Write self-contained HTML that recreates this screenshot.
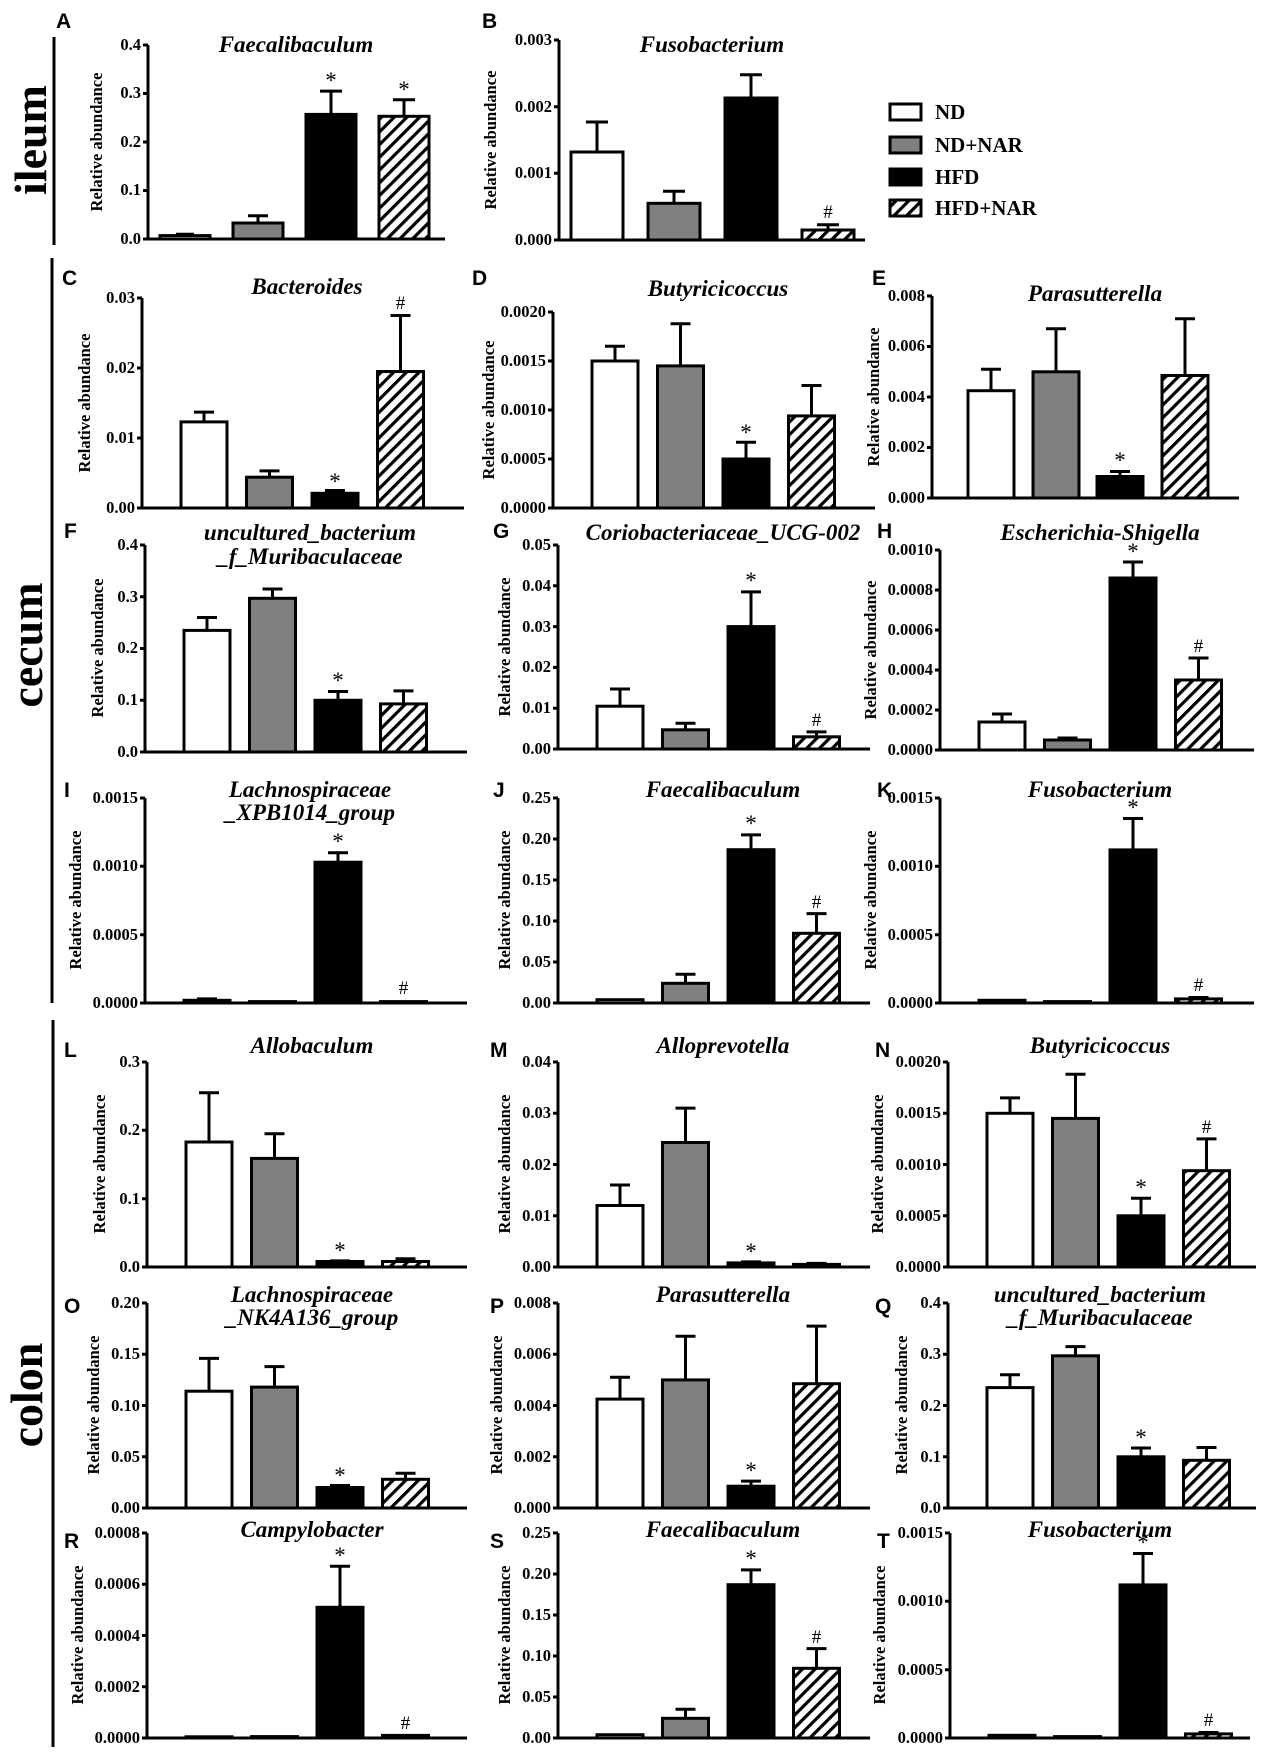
<!DOCTYPE html>
<html><head><meta charset="utf-8"><style>
html,body{margin:0;padding:0;background:#fff;}
svg{display:block;}
text{font-family:"Liberation Serif",serif;font-weight:bold;}
.t{font-size:16.5px;text-anchor:end;}
.yl{font-size:16.5px;text-anchor:middle;}
.ti{font-size:23px;font-style:italic;text-anchor:middle;}
.pl{font-family:"Liberation Sans",sans-serif;font-size:21px;}
.mk{font-size:23px;text-anchor:middle;font-weight:normal;}
.hs{font-size:19px;text-anchor:middle;font-weight:normal;}
.sec{font-size:46px;text-anchor:middle;}
.ax{fill:none;stroke:#000;stroke-width:3;}
.b0{fill:#fff;stroke:#000;stroke-width:3;}
.b1{fill:#808080;stroke:#000;stroke-width:3;}
.b2{fill:#000;stroke:#000;stroke-width:3;}
.b3{fill:url(#h);stroke:#000;stroke-width:3;}
.e{fill:none;stroke:#000;stroke-width:3;}
</style></head><body>
<svg width="1267" height="1757" viewBox="0 0 1267 1757" xmlns="http://www.w3.org/2000/svg">
<defs><pattern id="h" patternUnits="userSpaceOnUse" width="9" height="9" patternTransform="rotate(45)"><rect width="9" height="9" fill="#fff"/><rect x="0" y="0" width="3.2" height="9" fill="#000"/></pattern></defs>

<!-- section labels -->
<path class="ax" d="M54 37V245M52 258V1003M53 1020V1747"/>
<text class="sec" transform="translate(46,140) rotate(-90)">ileum</text>
<text class="sec" transform="translate(42,645) rotate(-90)">cecum</text>
<text class="sec" transform="translate(42,1395) rotate(-90)">colon</text>

<!-- legend -->
<rect class="b0" x="890" y="104" width="31" height="16"/><text x="935" y="119" font-size="21">ND</text>
<rect class="b1" x="890" y="137" width="31" height="16"/><text x="935" y="152" font-size="21">ND+NAR</text>
<rect class="b2" x="890" y="169" width="31" height="16"/><text x="935" y="184" font-size="21">HFD</text>
<rect class="b3" x="890" y="200" width="31" height="16"/><text x="935" y="215" font-size="21">HFD+NAR</text>

<!-- A -->
<text class="pl" x="56" y="28">A</text>
<text class="ti" x="296" y="52">Faecalibaculum</text>
<path class="ax" d="M148 45V239H445M143 45H148M143 93.5H148M143 142H148M143 190.5H148M143 239H148"/>
<text class="t" x="141" y="50">0.4</text><text class="t" x="141" y="98">0.3</text><text class="t" x="141" y="147">0.2</text><text class="t" x="141" y="195">0.1</text><text class="t" x="141" y="244">0.0</text>
<text class="yl" transform="translate(102,142) rotate(-90)">Relative abundance</text>
<rect class="b0" x="160" y="235.6" width="50" height="3.4"/><path class="e" d="M185 235.6V234.2M176 234.2H194"/>
<rect class="b1" x="233" y="223" width="50" height="16"/><path class="e" d="M258 223V215.7M248 215.7H268"/>
<rect class="b2" x="306" y="114.4" width="50" height="124.6"/><path class="e" d="M331 114.4V91.1M320 91.1H342"/><text class="mk" x="331" y="88">*</text>
<rect class="b3" x="379" y="116.3" width="50" height="122.7"/><path class="e" d="M404 116.3V99.8M393 99.8H415"/><text class="mk" x="404" y="97">*</text>

<!-- B -->
<text class="pl" x="482" y="28">B</text>
<text class="ti" x="712" y="52">Fusobacterium</text>
<path class="ax" d="M559 40V240H865M554 40H559M554 106.7H559M554 173.3H559M554 240H559"/>
<text class="t" x="552" y="45">0.003</text><text class="t" x="552" y="112">0.002</text><text class="t" x="552" y="178">0.001</text><text class="t" x="552" y="245">0.000</text>
<text class="yl" transform="translate(496,140) rotate(-90)">Relative abundance</text>
<rect class="b0" x="571" y="152" width="52" height="88"/><path class="e" d="M597 152V122M586 122H608"/>
<rect class="b1" x="648" y="203.3" width="52" height="36.7"/><path class="e" d="M674 203.3V191.3M663 191.3H685"/>
<rect class="b2" x="725" y="98" width="52" height="142"/><path class="e" d="M751 98V74.7M740 74.7H762"/>
<rect class="b3" x="802" y="230" width="52" height="10"/><path class="e" d="M828 230V224.7M817 224.7H839"/><text class="hs" x="828" y="218">#</text>

<!-- C -->
<text class="pl" x="62" y="285">C</text>
<text class="ti" x="307" y="294">Bacteroides</text>
<path class="ax" d="M142 298V508H464M137 298H142M137 368H142M137 438H142M137 508H142"/>
<text class="t" x="135" y="303">0.03</text><text class="t" x="135" y="373">0.02</text><text class="t" x="135" y="443">0.01</text><text class="t" x="135" y="513">0.00</text>
<text class="yl" transform="translate(90,403) rotate(-90)">Relative abundance</text>
<rect class="b0" x="181" y="421.9" width="46" height="86.1"/><path class="e" d="M204 421.9V412.1M194 412.1H214"/>
<rect class="b1" x="246.5" y="477.2" width="46" height="30.8"/><path class="e" d="M269.5 477.2V470.9M259.5 470.9H279.5"/>
<rect class="b2" x="312" y="493.3" width="46" height="14.7"/><path class="e" d="M335 493.3V490.5M325 490.5H345"/><text class="mk" x="335" y="489">*</text>
<rect class="b3" x="377.5" y="371.5" width="46" height="136.5"/><path class="e" d="M400.5 371.5V315.5M390.5 315.5H410.5"/><text class="hs" x="400.5" y="309">#</text>

<!-- D -->
<text class="pl" x="472" y="285">D</text>
<text class="ti" x="718" y="296">Butyricicoccus</text>
<path class="ax" d="M553 312V508H875M548 312H553M548 361H553M548 410H553M548 459H553M548 508H553"/>
<text class="t" x="546" y="317">0.0020</text><text class="t" x="546" y="366">0.0015</text><text class="t" x="546" y="415">0.0010</text><text class="t" x="546" y="464">0.0005</text><text class="t" x="546" y="513">0.0000</text>
<text class="yl" transform="translate(494,410) rotate(-90)">Relative abundance</text>
<rect class="b0" x="592" y="361" width="46" height="147"/><path class="e" d="M615 361V346.3M605 346.3H625"/>
<rect class="b1" x="657.5" y="365.9" width="46" height="142.1"/><path class="e" d="M680.5 365.9V323.8M670.5 323.8H690.5"/>
<rect class="b2" x="723" y="459" width="46" height="49"/><path class="e" d="M746 459V442.3M736 442.3H756"/><text class="mk" x="746" y="440">*</text>
<rect class="b3" x="788.5" y="415.9" width="46" height="92.1"/><path class="e" d="M811.5 415.9V385.5M801.5 385.5H821.5"/>

<!-- E -->
<text class="pl" x="872" y="285">E</text>
<text class="ti" x="1095" y="301">Parasutterella</text>
<path class="ax" d="M932 296V498H1239M927 296H932M927 346.5H932M927 397H932M927 447.5H932M927 498H932"/>
<text class="t" x="925" y="301">0.008</text><text class="t" x="925" y="351">0.006</text><text class="t" x="925" y="402">0.004</text><text class="t" x="925" y="452">0.002</text><text class="t" x="925" y="503">0.000</text>
<text class="yl" transform="translate(879,397) rotate(-90)">Relative abundance</text>
<rect class="b0" x="968" y="390.7" width="46" height="107.3"/><path class="e" d="M991 390.7V369.2M981 369.2H1001"/>
<rect class="b1" x="1033" y="371.8" width="46" height="126.2"/><path class="e" d="M1056 371.8V328.8M1046 328.8H1066"/>
<rect class="b2" x="1097" y="476.5" width="46" height="21.5"/><path class="e" d="M1120 476.5V471.5M1110 471.5H1130"/><text class="mk" x="1120" y="468">*</text>
<rect class="b3" x="1162" y="375.5" width="46" height="122.5"/><path class="e" d="M1185 375.5V318.7M1175 318.7H1195"/>

<!-- F -->
<text class="pl" x="64" y="538">F</text>
<text class="ti" x="310" y="540">uncultured_bacterium</text><text class="ti" x="310" y="564">_f_Muribaculaceae</text>
<path class="ax" d="M145 545V752H467M140 545H145M140 596.75H145M140 648.5H145M140 700.25H145M140 752H145"/>
<text class="t" x="138" y="550">0.4</text><text class="t" x="138" y="602">0.3</text><text class="t" x="138" y="653">0.2</text><text class="t" x="138" y="705">0.1</text><text class="t" x="138" y="757">0.0</text>
<text class="yl" transform="translate(103,648) rotate(-90)">Relative abundance</text>
<rect class="b0" x="184" y="630.4" width="46" height="121.6"/><path class="e" d="M207 630.4V617.5M197 617.5H217"/>
<rect class="b1" x="249.5" y="598.3" width="46" height="153.7"/><path class="e" d="M272.5 598.3V589M262.5 589H282.5"/>
<rect class="b2" x="315" y="700.3" width="46" height="51.7"/><path class="e" d="M338 700.3V691.5M328 691.5H348"/><text class="mk" x="338" y="688">*</text>
<rect class="b3" x="380.5" y="703.9" width="46" height="48.1"/><path class="e" d="M403.5 703.9V690.9M393.5 690.9H413.5"/>

<!-- G -->
<text class="pl" x="493" y="538">G</text>
<text class="ti" x="723" y="540">Coriobacteriaceae_UCG-002</text>
<path class="ax" d="M558 545V749H870M553 545H558M553 585.8H558M553 626.6H558M553 667.4H558M553 708.2H558M553 749H558"/>
<text class="t" x="551" y="550">0.05</text><text class="t" x="551" y="591">0.04</text><text class="t" x="551" y="632">0.03</text><text class="t" x="551" y="672">0.02</text><text class="t" x="551" y="713">0.01</text><text class="t" x="551" y="754">0.00</text>
<text class="yl" transform="translate(510,647) rotate(-90)">Relative abundance</text>
<rect class="b0" x="597" y="706.2" width="46" height="42.8"/><path class="e" d="M620 706.2V689M610 689H630"/>
<rect class="b1" x="662.5" y="729.8" width="46" height="19.2"/><path class="e" d="M685.5 729.8V723.3M675.5 723.3H695.5"/>
<rect class="b2" x="728" y="626.6" width="46" height="122.4"/><path class="e" d="M751 626.6V591.9M741 591.9H761"/><text class="mk" x="751" y="588">*</text>
<rect class="b3" x="793.5" y="736.8" width="46" height="12.2"/><path class="e" d="M816.5 736.8V731.9M806.5 731.9H826.5"/><text class="hs" x="816.5" y="726">#</text>

<!-- H -->
<text class="pl" x="877" y="538">H</text>
<text class="ti" x="1100" y="540">Escherichia-Shigella</text>
<path class="ax" d="M940 550V750H1254M935 550H940M935 590H940M935 630H940M935 670H940M935 710H940M935 750H940"/>
<text class="t" x="933" y="555">0.0010</text><text class="t" x="933" y="595">0.0008</text><text class="t" x="933" y="635">0.0006</text><text class="t" x="933" y="675">0.0004</text><text class="t" x="933" y="715">0.0002</text><text class="t" x="933" y="755">0.0000</text>
<text class="yl" transform="translate(876,650) rotate(-90)">Relative abundance</text>
<rect class="b0" x="979" y="722" width="46" height="28"/><path class="e" d="M1002 722V714M992 714H1012"/>
<rect class="b1" x="1044.5" y="740" width="46" height="10"/><path class="e" d="M1067.5 740V738M1057.5 738H1077.5"/>
<rect class="b2" x="1110" y="578" width="46" height="172"/><path class="e" d="M1133 578V562M1123 562H1143"/><text class="mk" x="1133" y="559">*</text>
<rect class="b3" x="1175.5" y="680" width="46" height="70"/><path class="e" d="M1198.5 680V658M1188.5 658H1208.5"/><text class="hs" x="1198.5" y="652">#</text>

<!-- I -->
<text class="pl" x="64" y="797">I</text>
<text class="ti" x="310" y="797">Lachnospiraceae</text><text class="ti" x="310" y="820">_XPB1014_group</text>
<path class="ax" d="M145 798V1003H467M140 798H145M140 866.3H145M140 934.7H145M140 1003H145"/>
<text class="t" x="138" y="803">0.0015</text><text class="t" x="138" y="871">0.0010</text><text class="t" x="138" y="940">0.0005</text><text class="t" x="138" y="1008">0.0000</text>
<text class="yl" transform="translate(81,900) rotate(-90)">Relative abundance</text>
<rect class="b0" x="184" y="1000.3" width="46" height="2.7"/><path class="e" d="M207 1000.3V998.9M197 998.9H217"/>
<rect class="b1" x="249.5" y="1001.6" width="46" height="1.4"/>
<rect class="b2" x="315" y="862.2" width="46" height="140.8"/><path class="e" d="M338 862.2V852.7M328 852.7H348"/><text class="mk" x="338" y="849">*</text>
<rect class="b3" x="380.5" y="1001.6" width="46" height="1.4"/><text class="hs" x="403.5" y="994">#</text>

<!-- J -->
<text class="pl" x="493" y="797">J</text>
<text class="ti" x="723" y="797">Faecalibaculum</text>
<path class="ax" d="M558 798V1003H870M553 798H558M553 839H558M553 880H558M553 921H558M553 962H558M553 1003H558"/>
<text class="t" x="551" y="803">0.25</text><text class="t" x="551" y="844">0.20</text><text class="t" x="551" y="885">0.15</text><text class="t" x="551" y="926">0.10</text><text class="t" x="551" y="967">0.05</text><text class="t" x="551" y="1008">0.00</text>
<text class="yl" transform="translate(510,900) rotate(-90)">Relative abundance</text>
<rect class="b0" x="597" y="999.7" width="46" height="3.3"/>
<rect class="b1" x="662.5" y="983.3" width="46" height="19.7"/><path class="e" d="M685.5 983.3V974.3M675.5 974.3H695.5"/>
<rect class="b2" x="728" y="849.7" width="46" height="153.3"/><path class="e" d="M751 849.7V834.9M741 834.9H761"/><text class="mk" x="751" y="831">*</text>
<rect class="b3" x="793.5" y="933.3" width="46" height="69.7"/><path class="e" d="M816.5 933.3V913.6M806.5 913.6H826.5"/><text class="hs" x="816.5" y="908">#</text>

<!-- K -->
<text class="pl" x="877" y="797">K</text>
<text class="ti" x="1100" y="797">Fusobacterium</text>
<path class="ax" d="M940 798V1003H1254M935 798H940M935 866.3H940M935 934.7H940M935 1003H940"/>
<text class="t" x="933" y="803">0.0015</text><text class="t" x="933" y="871">0.0010</text><text class="t" x="933" y="940">0.0005</text><text class="t" x="933" y="1008">0.0000</text>
<text class="yl" transform="translate(876,900) rotate(-90)">Relative abundance</text>
<rect class="b0" x="979" y="1000.3" width="46" height="2.7"/>
<rect class="b1" x="1044.5" y="1001.6" width="46" height="1.4"/>
<rect class="b2" x="1110" y="849.9" width="46" height="153.1"/><path class="e" d="M1133 849.9V818.5M1123 818.5H1143"/><text class="mk" x="1133" y="815">*</text>
<rect class="b3" x="1175.5" y="998.9" width="46" height="4.1"/><path class="e" d="M1198.5 998.9V997.5M1188.5 997.5H1208.5"/><text class="hs" x="1198.5" y="991">#</text>

<!-- L -->
<text class="pl" x="64" y="1057">L</text>
<text class="ti" x="312" y="1053">Allobaculum</text>
<path class="ax" d="M147 1062V1267H467M142 1062H147M142 1130.3H147M142 1198.7H147M142 1267H147"/>
<text class="t" x="140" y="1067">0.3</text><text class="t" x="140" y="1135">0.2</text><text class="t" x="140" y="1204">0.1</text><text class="t" x="140" y="1272">0.0</text>
<text class="yl" transform="translate(105,1164) rotate(-90)">Relative abundance</text>
<rect class="b0" x="186" y="1142" width="46" height="125"/><path class="e" d="M209 1142V1092.8M199 1092.8H219"/>
<rect class="b1" x="251.5" y="1158.4" width="46" height="108.6"/><path class="e" d="M274.5 1158.4V1133.8M264.5 1133.8H284.5"/>
<rect class="b2" x="317" y="1261.5" width="46" height="5.5"/><path class="e" d="M340 1261.5V1260.9M330 1260.9H350"/><text class="mk" x="340" y="1258">*</text>
<rect class="b3" x="382.5" y="1261.5" width="46" height="5.5"/><path class="e" d="M405.5 1261.5V1258.8M395.5 1258.8H415.5"/>

<!-- M -->
<text class="pl" x="490" y="1057">M</text>
<text class="ti" x="723" y="1053">Alloprevotella</text>
<path class="ax" d="M558 1062V1267H870M553 1062H558M553 1113.25H558M553 1164.5H558M553 1215.75H558M553 1267H558"/>
<text class="t" x="551" y="1067">0.04</text><text class="t" x="551" y="1118">0.03</text><text class="t" x="551" y="1170">0.02</text><text class="t" x="551" y="1221">0.01</text><text class="t" x="551" y="1272">0.00</text>
<text class="yl" transform="translate(510,1164) rotate(-90)">Relative abundance</text>
<rect class="b0" x="597" y="1205.5" width="46" height="61.5"/><path class="e" d="M620 1205.5V1185M610 1185H630"/>
<rect class="b1" x="662.5" y="1142.5" width="46" height="124.5"/><path class="e" d="M685.5 1142.5V1108.1M675.5 1108.1H695.5"/>
<rect class="b2" x="728" y="1262.9" width="46" height="4.1"/><path class="e" d="M751 1262.9V1261.9M741 1261.9H761"/><text class="mk" x="751" y="1259">*</text>
<rect class="b3" x="793.5" y="1264.4" width="46" height="2.6"/><path class="e" d="M816.5 1264.4V1263.4M806.5 1263.4H826.5"/>

<!-- N -->
<text class="pl" x="875" y="1057">N</text>
<text class="ti" x="1100" y="1053">Butyricicoccus</text>
<path class="ax" d="M948 1062V1267H1256M943 1062H948M943 1113.25H948M943 1164.5H948M943 1215.75H948M943 1267H948"/>
<text class="t" x="941" y="1067">0.0020</text><text class="t" x="941" y="1118">0.0015</text><text class="t" x="941" y="1170">0.0010</text><text class="t" x="941" y="1221">0.0005</text><text class="t" x="941" y="1272">0.0000</text>
<text class="yl" transform="translate(883,1164) rotate(-90)">Relative abundance</text>
<rect class="b0" x="987" y="1113.3" width="46" height="153.7"/><path class="e" d="M1010 1113.3V1097.9M1000 1097.9H1020"/>
<rect class="b1" x="1052.5" y="1118.4" width="46" height="148.6"/><path class="e" d="M1075.5 1118.4V1074.3M1065.5 1074.3H1085.5"/>
<rect class="b2" x="1118" y="1215.8" width="46" height="51.2"/><path class="e" d="M1141 1215.8V1198.3M1131 1198.3H1151"/><text class="mk" x="1141" y="1195">*</text>
<rect class="b3" x="1183.5" y="1170.7" width="46" height="96.3"/><path class="e" d="M1206.5 1170.7V1138.9M1196.5 1138.9H1216.5"/><text class="hs" x="1206.5" y="1133">#</text>

<!-- O -->
<text class="pl" x="64" y="1313">O</text>
<text class="ti" x="312" y="1302">Lachnospiraceae</text><text class="ti" x="312" y="1325">_NK4A136_group</text>
<path class="ax" d="M147 1303V1508H467M142 1303H147M142 1354.25H147M142 1405.5H147M142 1456.75H147M142 1508H147"/>
<text class="t" x="140" y="1308">0.20</text><text class="t" x="140" y="1359">0.15</text><text class="t" x="140" y="1411">0.10</text><text class="t" x="140" y="1462">0.05</text><text class="t" x="140" y="1513">0.00</text>
<text class="yl" transform="translate(99,1405) rotate(-90)">Relative abundance</text>
<rect class="b0" x="186" y="1391.2" width="46" height="116.8"/><path class="e" d="M209 1391.2V1358.4M199 1358.4H219"/>
<rect class="b1" x="251.5" y="1387.1" width="46" height="120.9"/><path class="e" d="M274.5 1387.1V1366.6M264.5 1366.6H284.5"/>
<rect class="b2" x="317" y="1487.5" width="46" height="20.5"/><path class="e" d="M340 1487.5V1485.5M330 1485.5H350"/><text class="mk" x="340" y="1483">*</text>
<rect class="b3" x="382.5" y="1479.3" width="46" height="28.7"/><path class="e" d="M405.5 1479.3V1473.2M395.5 1473.2H415.5"/>

<!-- P -->
<text class="pl" x="490" y="1313">P</text>
<text class="ti" x="723" y="1302">Parasutterella</text>
<path class="ax" d="M558 1303V1508H870M553 1303H558M553 1354.25H558M553 1405.5H558M553 1456.75H558M553 1508H558"/>
<text class="t" x="551" y="1308">0.008</text><text class="t" x="551" y="1359">0.006</text><text class="t" x="551" y="1411">0.004</text><text class="t" x="551" y="1462">0.002</text><text class="t" x="551" y="1513">0.000</text>
<text class="yl" transform="translate(502,1405) rotate(-90)">Relative abundance</text>
<rect class="b0" x="597" y="1399.1" width="46" height="108.9"/><path class="e" d="M620 1399.1V1377.3M610 1377.3H630"/>
<rect class="b1" x="662.5" y="1379.9" width="46" height="128.1"/><path class="e" d="M685.5 1379.9V1336.3M675.5 1336.3H695.5"/>
<rect class="b2" x="728" y="1486.2" width="46" height="21.8"/><path class="e" d="M751 1486.2V1481.1M741 1481.1H761"/><text class="mk" x="751" y="1478">*</text>
<rect class="b3" x="793.5" y="1383.7" width="46" height="124.3"/><path class="e" d="M816.5 1383.7V1326.1M806.5 1326.1H826.5"/>

<!-- Q -->
<text class="pl" x="875" y="1313">Q</text>
<text class="ti" x="1100" y="1302">uncultured_bacterium</text><text class="ti" x="1100" y="1325">_f_Muribaculaceae</text>
<path class="ax" d="M948 1303V1508H1256M943 1303H948M943 1354.25H948M943 1405.5H948M943 1456.75H948M943 1508H948"/>
<text class="t" x="941" y="1308">0.4</text><text class="t" x="941" y="1359">0.3</text><text class="t" x="941" y="1411">0.2</text><text class="t" x="941" y="1462">0.1</text><text class="t" x="941" y="1513">0.0</text>
<text class="yl" transform="translate(907,1405) rotate(-90)">Relative abundance</text>
<rect class="b0" x="987" y="1387.6" width="46" height="120.4"/><path class="e" d="M1010 1387.6V1374.8M1000 1374.8H1020"/>
<rect class="b1" x="1052.5" y="1355.8" width="46" height="152.2"/><path class="e" d="M1075.5 1355.8V1346.6M1065.5 1346.6H1085.5"/>
<rect class="b2" x="1118" y="1456.8" width="46" height="51.2"/><path class="e" d="M1141 1456.8V1448M1131 1448H1151"/><text class="mk" x="1141" y="1445">*</text>
<rect class="b3" x="1183.5" y="1460.3" width="46" height="47.7"/><path class="e" d="M1206.5 1460.3V1447.5M1196.5 1447.5H1216.5"/>

<!-- R -->
<text class="pl" x="64" y="1548">R</text>
<text class="ti" x="312" y="1537">Campylobacter</text>
<path class="ax" d="M147 1533V1738H467M142 1533H147M142 1584.25H147M142 1635.5H147M142 1686.75H147M142 1738H147"/>
<text class="t" x="140" y="1538">0.0008</text><text class="t" x="140" y="1589">0.0006</text><text class="t" x="140" y="1641">0.0004</text><text class="t" x="140" y="1692">0.0002</text><text class="t" x="140" y="1743">0.0000</text>
<text class="yl" transform="translate(83,1635) rotate(-90)">Relative abundance</text>
<rect class="b0" x="186" y="1736.8" width="46" height="1.2"/>
<rect class="b1" x="251.5" y="1736.6" width="46" height="1.4"/>
<rect class="b2" x="317" y="1607.3" width="46" height="130.7"/><path class="e" d="M340 1607.3V1566.3M330 1566.3H350"/><text class="mk" x="340" y="1563">*</text>
<rect class="b3" x="382.5" y="1735.4" width="46" height="2.6"/><text class="hs" x="405.5" y="1729">#</text>

<!-- S -->
<text class="pl" x="490" y="1548">S</text>
<text class="ti" x="723" y="1537">Faecalibaculum</text>
<path class="ax" d="M558 1533V1738H870M553 1533H558M553 1574H558M553 1615H558M553 1656H558M553 1697H558M553 1738H558"/>
<text class="t" x="551" y="1538">0.25</text><text class="t" x="551" y="1579">0.20</text><text class="t" x="551" y="1620">0.15</text><text class="t" x="551" y="1661">0.10</text><text class="t" x="551" y="1702">0.05</text><text class="t" x="551" y="1743">0.00</text>
<text class="yl" transform="translate(510,1635) rotate(-90)">Relative abundance</text>
<rect class="b0" x="597" y="1734.7" width="46" height="3.3"/>
<rect class="b1" x="662.5" y="1718.3" width="46" height="19.7"/><path class="e" d="M685.5 1718.3V1709.3M675.5 1709.3H695.5"/>
<rect class="b2" x="728" y="1584.7" width="46" height="153.3"/><path class="e" d="M751 1584.7V1569.9M741 1569.9H761"/><text class="mk" x="751" y="1566">*</text>
<rect class="b3" x="793.5" y="1668.3" width="46" height="69.7"/><path class="e" d="M816.5 1668.3V1648.6M806.5 1648.6H826.5"/><text class="hs" x="816.5" y="1643">#</text>

<!-- T -->
<text class="pl" x="877" y="1548">T</text>
<text class="ti" x="1100" y="1537">Fusobacterium</text>
<path class="ax" d="M950 1533V1738H1250M945 1533H950M945 1601.3H950M945 1669.7H950M945 1738H950"/>
<text class="t" x="943" y="1538">0.0015</text><text class="t" x="943" y="1606">0.0010</text><text class="t" x="943" y="1675">0.0005</text><text class="t" x="943" y="1743">0.0000</text>
<text class="yl" transform="translate(885,1635) rotate(-90)">Relative abundance</text>
<rect class="b0" x="989" y="1735.3" width="46" height="2.7"/>
<rect class="b1" x="1054.5" y="1736.6" width="46" height="1.4"/>
<rect class="b2" x="1120" y="1584.9" width="46" height="153.1"/><path class="e" d="M1143 1584.9V1553.5M1133 1553.5H1153"/><text class="mk" x="1143" y="1550">*</text>
<rect class="b3" x="1185.5" y="1733.9" width="46" height="4.1"/><path class="e" d="M1208.5 1733.9V1732.5M1198.5 1732.5H1218.5"/><text class="hs" x="1208.5" y="1726">#</text>
</svg>
</body></html>
